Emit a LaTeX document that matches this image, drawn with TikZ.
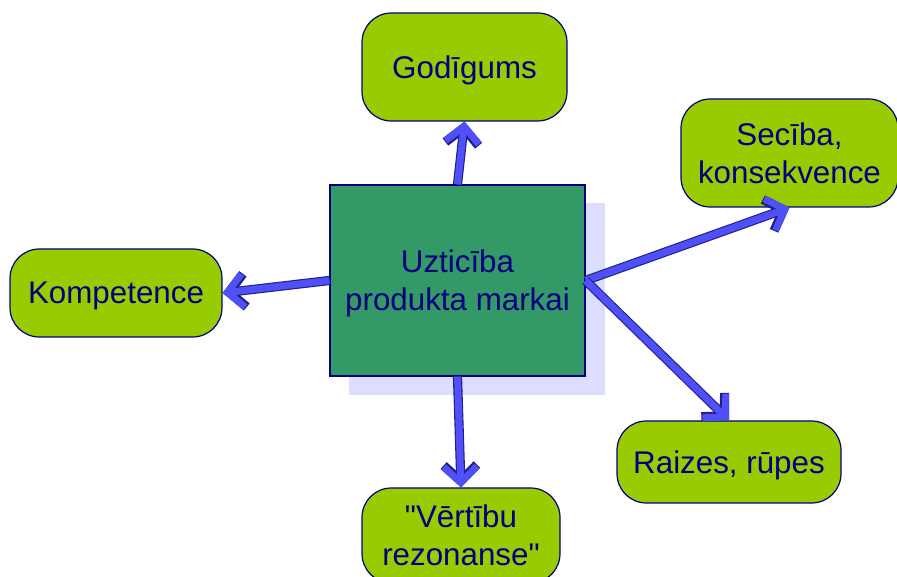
\documentclass[tikz,border=0pt]{standalone}
\usepackage{fontspec}
\setmainfont{Liberation Sans}[Ligatures=TeXOff]
\usetikzlibrary{arrows.meta}
\definecolor{leaf}{HTML}{99CC00}
\definecolor{teal2}{HTML}{339966}
\definecolor{shade}{HTML}{DDDDFF}
\definecolor{navy2}{HTML}{000080}
\definecolor{arrblue}{HTML}{5050F8}
\definecolor{arredge}{HTML}{20208C}
\tikzset{
  leafbox/.style={draw=navy2, line width=0.9pt, fill=leaf, rounded corners=22pt,
    text=navy2, align=center, inner sep=0pt, text depth=0pt,
    font=\fontsize{23.5}{28.5}\selectfont},
  corebox/.style={draw=navy2, line width=0.9pt, fill=teal2, text=navy2, align=center,
    inner sep=0pt, text depth=0pt, font=\fontsize{23.5}{28.5}\selectfont},
  shadowbox/.style={fill=shade, draw=none, inner sep=0pt},
  arrouter/.style={draw=arredge, line width=6.9pt,
    -{Straight Barb[length=12pt,width=25pt]}},
  arrinner/.style={draw=arrblue, line width=5.2pt,
    -{Straight Barb[length=12pt,width=25pt]}},
}
\newcommand{\blockarrow}[2]{\draw[arrouter] (#1) -- (#2);\draw[arrinner] (#1) -- (#2);}
\begin{document}
\begin{tikzpicture}[x=0.75pt,y=-0.75pt]
\useasboundingbox (0,0) rectangle (897,577);
% shadow and core
\node[shadowbox, minimum width=192pt, minimum height=144pt] (shadow) at (476.5,299.5) {};
\node[corebox, minimum width=191.25pt, minimum height=143.25pt] (core) at (457.5,280.5) {Uzticība\\produkta markai};
% leaves
\node[leafbox, minimum width=153.75pt, minimum height=81pt] (god) at (464.5,67) {Godīgums};
\node[leafbox, minimum width=162.75pt, minimum height=81pt] (sec) at (789.5,153) {Secība,\\konsekvence};
\node[leafbox, minimum width=159pt, minimum height=66pt] (komp) at (116,293) {Kompetence};
\node[leafbox, minimum width=168pt, minimum height=61.5pt] (raiz) at (729,462) {Raizes, rūpes};
\node[leafbox, minimum width=148.5pt, minimum height=71.25pt] (vert) at (461,535.5) {"Vērtību\\rezonanse"};
% arrows
\blockarrow{core.north}{god.south}
\blockarrow{core.west}{komp.east}
\blockarrow{core.south}{vert.north}
\blockarrow{core.east}{sec.south}
\blockarrow{core.east}{raiz.north}
\end{tikzpicture}
\end{document}
